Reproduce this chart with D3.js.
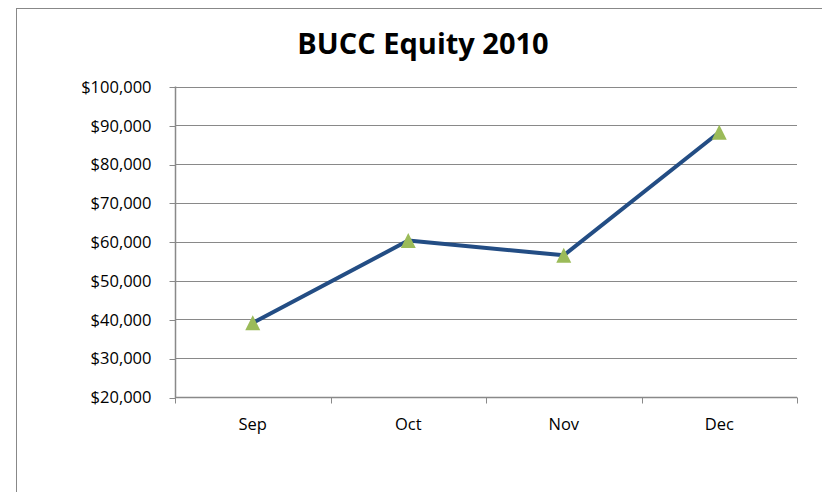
<!DOCTYPE html>
<html>
<head>
<meta charset="utf-8">
<script src="https://cdn.jsdelivr.net/npm/d3@7"></script>
<style>
  body { margin: 0; background: #fff; }
  .tick-label { font-family: "Open Sans", sans-serif; font-size: 16.5px; fill: #000; }
  .title { font-family: "Open Sans", sans-serif; font-size: 29px; font-weight: bold; fill: #000; }
</style>
</head>
<body>
<svg id="chart" width="822" height="492"></svg>
<script>

////////////////////////// DATA //////////////////////////

const months = ['Sep', 'Oct', 'Nov', 'Dec']
const equity = [39100, 60300, 56500, 88200]
const yTicks = [20000, 30000, 40000, 50000, 60000, 70000, 80000, 90000, 100000]
const chartTitle = 'BUCC Equity 2010'


////////////////////////// SETUP //////////////////////////

const svg = d3.select('#chart')

const plot = { left: 175, right: 797, top: 86.5, bottom: 397 }

const xScale = d3.scaleBand()
  .domain(months)
  .range([plot.left, plot.right])

const yScale = d3.scaleLinear()
  .domain([20000, 100000])
  .range([plot.bottom, plot.top])

const gridColor = '#898989'
const lineColor = '#234d84'
const markerColor = '#9bbb59'

// outer chart frame (runs past the window on the right and bottom)
svg.append('rect')
  .attr('x', 16.5)
  .attr('y', 8.5)
  .attr('width', 900)
  .attr('height', 600)
  .style('fill', 'none')
  .style('stroke', '#888')

// title
svg.append('text')
  .attr('class', 'title')
  .attr('x', 423)
  .attr('y', 54)
  .attr('text-anchor', 'middle')
  .text(chartTitle)


////////////////////////// AXES //////////////////////////

// horizontal grid
svg.append('g')
  .selectAll('line')
  .data(yTicks.slice(1))
  .enter()
  .append('line')
  .attr('x1', plot.left)
  .attr('x2', plot.right)
  .attr('y1', (d) => Math.round(yScale(d)) + 0.5)
  .attr('y2', (d) => Math.round(yScale(d)) + 0.5)
  .style('stroke', gridColor)
  .style('stroke-width', 1)

// y axis
const yAxis = d3.axisLeft(yScale)
  .tickValues(yTicks)
  .tickSize(6)
  .tickPadding(18)
  .tickFormat((d) => '$' + d3.format(',')(d))

const yAxisG = svg.append('g')
  .attr('transform', `translate(${plot.left + 0.5},0)`)
  .call(yAxis)

yAxisG.select('.domain').remove()
yAxisG.selectAll('.tick line')
  .attr('transform', function () {
    const y = +d3.select(this.parentNode).attr('transform').match(/,([\d.]+)/)[1]
    return `translate(0,${Math.round(y) + 0.5 - y})`
  })
  .style('stroke', gridColor)
yAxisG.selectAll('.tick text')
  .attr('class', 'tick-label')
  .attr('dy', '0.35em')

svg.append('line')
  .attr('x1', plot.left + 0.5)
  .attr('x2', plot.left + 0.5)
  .attr('y1', yScale(100000))
  .attr('y2', plot.bottom + 1)
  .style('stroke', gridColor)
  .style('stroke-width', 1.5)

// x axis
const xAxisG = svg.append('g')
  .attr('transform', `translate(0,${Math.round(plot.bottom) + 0.5})`)

xAxisG.append('line')
  .attr('x1', plot.left)
  .attr('x2', plot.right)
  .style('stroke', gridColor)
  .style('stroke-width', 1.5)

// tick marks on band boundaries
const boundaries = months.map((m) => xScale(m)).concat([xScale.range()[1]])
xAxisG.selectAll('.xtick')
  .data(boundaries)
  .enter()
  .append('line')
  .attr('class', 'xtick')
  .attr('x1', (d) => Math.round(d) + 0.5)
  .attr('x2', (d) => Math.round(d) + 0.5)
  .attr('y1', 0)
  .attr('y2', 6)
  .style('stroke', gridColor)

xAxisG.selectAll('.xlabel')
  .data(months)
  .enter()
  .append('text')
  .attr('class', 'tick-label')
  .attr('x', (d) => xScale(d) + xScale.bandwidth() / 2)
  .attr('y', 32)
  .attr('text-anchor', 'middle')
  .text((d) => d)


////////////////////////// SERIES //////////////////////////

const points = months.map((m, i) => ({ month: m, value: equity[i] }))
const cx = (d) => xScale(d.month) + xScale.bandwidth() / 2

const line = d3.line()
  .x(cx)
  .y((d) => yScale(d.value))

svg.append('path')
  .datum(points)
  .attr('d', line)
  .style('fill', 'none')
  .style('stroke', lineColor)
  .style('stroke-width', 4)
  .style('stroke-linejoin', 'round')

// triangle markers, box centred on the point (like excel)
const excelTriangle = {
  draw (context, size) {
    const h = Math.sqrt(size)
    context.moveTo(0, -h / 2)
    context.lineTo(h / 2, h / 2)
    context.lineTo(-h / 2, h / 2)
    context.closePath()
  }
}
const triangle = d3.symbol().type(excelTriangle).size(225)

svg.selectAll('.marker')
  .data(points)
  .enter()
  .append('path')
  .attr('class', 'marker')
  .attr('d', triangle)
  .attr('transform', (d) => `translate(${cx(d)},${yScale(d.value)})`)
  .style('fill', markerColor)

</script>
</body>
</html>
